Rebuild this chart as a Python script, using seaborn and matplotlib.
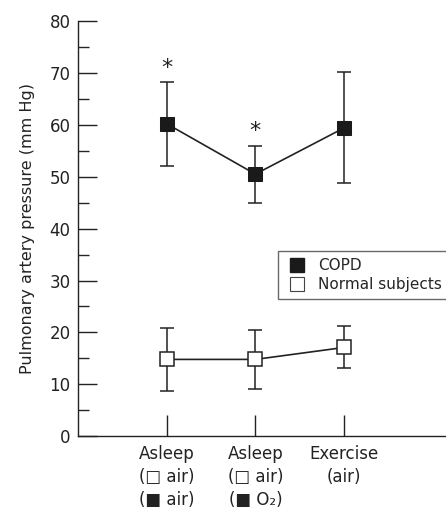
import matplotlib
matplotlib.use("Agg")
import matplotlib.pyplot as plt
import seaborn as sns
import pandas as pd
import numpy as np
from matplotlib.ticker import MultipleLocator
from matplotlib.lines import Line2D

categories = ["Asleep\n(\u25a1 air)\n(\u25a0 air)", "Asleep\n(\u25a1 air)\n(\u25a0 O\u2082)", "Exercise\n(air)\n "]
copd_mean = [60.2, 50.5, 59.4]
copd_low = [52.0, 45.0, 48.7]
copd_high = [68.3, 55.9, 70.1]
normal_mean = [14.8, 14.8, 17.1]
normal_low = [8.8, 9.1, 13.1]
normal_high = [20.8, 20.5, 21.3]
star_y = [71.0, 58.8]

sns.set_style("ticks")
plt.rcParams['font.family'] = ['DejaVu Sans']

fig = plt.figure(figsize=(4.46, 5.12), dpi=100)
ax = fig.add_axes([0.175, 0.148, 0.825, 0.811])

x = [1, 2, 3]
df = pd.DataFrame({
    "x": x * 2,
    "y": copd_mean + normal_mean,
    "group": ["COPD"] * 3 + ["Normal subjects"] * 3,
})

for means, lo, hi in [(copd_mean, copd_low, copd_high), (normal_mean, normal_low, normal_high)]:
    m = np.array(means)
    yerr = [m - np.array(lo), np.array(hi) - m]
    ax.errorbar(x, m, yerr=yerr, fmt="none", ecolor="#222222", elinewidth=1.1,
                capsize=5, capthick=1.1, zorder=2)

sns.lineplot(data=df, x="x", y="y", hue="group", style="group",
             palette={"COPD": "#222222", "Normal subjects": "#222222"},
             markers={"COPD": "s", "Normal subjects": "s"},
             dashes=False, markersize=10.5, linewidth=1.2, ax=ax, zorder=3,
             legend=False)
copd_line, normal_line = ax.lines[-2], ax.lines[-1]
copd_line.set_markerfacecolor("#1a1a1a")
copd_line.set_markeredgecolor("#1a1a1a")
normal_line.set_markerfacecolor("white")
normal_line.set_markeredgecolor("#222222")
normal_line.set_markeredgewidth(1.1)

for xi, yi in zip(x[:2], star_y):
    ax.text(xi, yi, "*", ha="center", va="center", fontsize=16, color="#222222")

ax.set_xlim(0, 4.15)
ax.set_ylim(0, 80)
ax.set_xticks(x)
ax.set_xticklabels(categories, fontsize=12, linespacing=1.38)
ax.yaxis.set_major_locator(MultipleLocator(10))
ax.yaxis.set_minor_locator(MultipleLocator(5))
ax.tick_params(axis="y", which="major", direction="in", length=14, width=1, labelsize=12, colors="#222222", pad=5.5)
ax.tick_params(axis="y", which="minor", direction="in", length=8, width=1)
ax.tick_params(axis="x", which="major", direction="in", length=15, width=1, labelsize=12, colors="#222222", pad=6)
ax.set_xlabel("")
ax.set_ylabel("Pulmonary artery pressure (mm Hg)", fontsize=11.5, color="#222222", labelpad=10)
for s in ["top", "right"]:
    ax.spines[s].set_visible(False)
for s in ["left", "bottom"]:
    ax.spines[s].set_linewidth(1)
    ax.spines[s].set_color("#222222")

handles = [
    Line2D([], [], linestyle="none", marker="s", markersize=10, markerfacecolor="#1a1a1a", markeredgecolor="#1a1a1a"),
    Line2D([], [], linestyle="none", marker="s", markersize=10, markerfacecolor="white", markeredgecolor="#444444", markeredgewidth=0.8),
]
leg = ax.legend(handles, ["COPD", "Normal subjects"], loc="upper left",
                bbox_to_anchor=(0.543, 0.345, 0.48, 0.1), mode="expand", fontsize=11, frameon=True, fancybox=False,
                handlelength=1.6, handletextpad=0.6, borderpad=0.45, labelspacing=0.25,
                edgecolor="#444444", borderaxespad=0)
leg.get_frame().set_linewidth(1)

fig.savefig("out.png", dpi=100)
